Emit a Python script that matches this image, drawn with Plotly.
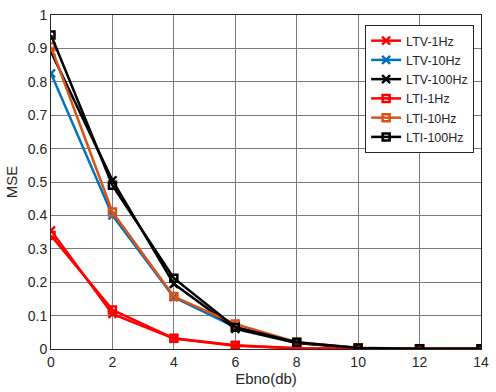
import plotly.graph_objects as go

ebno = [0, 2, 4, 6, 8, 10, 12, 14]
ltv_1 = [0.355, 0.105, 0.031, 0.010, 0.002, 0.001, 0.0005, 0.0003]
ltv_10 = [0.825, 0.400, 0.155, 0.066, 0.018, 0.003, 0.001, 0.0005]
ltv_100 = [0.890, 0.505, 0.195, 0.060, 0.018, 0.003, 0.001, 0.001]
lti_1 = [0.340, 0.117, 0.032, 0.011, 0.002, 0.001, 0.0005, 0.0003]
lti_10 = [0.905, 0.410, 0.157, 0.075, 0.020, 0.004, 0.001, 0.001]
lti_100 = [0.940, 0.490, 0.212, 0.065, 0.020, 0.003, 0.001, 0.001]

series = [
    ("LTV-1Hz", ltv_1, "#FF0000", "x-thin", 8),
    ("LTV-10Hz", ltv_10, "#0072BD", "x-thin", 8),
    ("LTV-100Hz", ltv_100, "#000000", "x-thin", 8),
    ("LTI-1Hz", lti_1, "#FF0000", "square-open", 7),
    ("LTI-10Hz", lti_10, "#D95319", "square-open", 7),
    ("LTI-100Hz", lti_100, "#000000", "square-open", 7),
]

fig = go.Figure()
for name, ys, col, sym, sz in series:
    fig.add_trace(go.Scatter(
        x=ebno, y=ys, name=name, mode="lines+markers",
        line=dict(color=col, width=2.5),
        marker=dict(symbol=sym, size=sz, color=col, line=dict(color=col, width=2.5)),
    ))

axis_common = dict(
    showgrid=True, gridcolor="#7a7a7a", gridwidth=1,
    showline=True, linecolor="#262626", linewidth=1, mirror=True,
    ticks="", zeroline=False,
    tickfont=dict(family="Liberation Sans, Arial", size=14, color="#262626"),
)

fig.update_layout(
    width=496, height=392,
    margin=dict(l=51, r=7, t=11, b=43),
    paper_bgcolor="white", plot_bgcolor="white",
    font=dict(family="Liberation Sans, Arial", size=14, color="#262626"),
    xaxis=dict(range=[0, 14], dtick=2, tick0=0,
               title=dict(text="Ebno(db)", standoff=4, font=dict(size=15)), **axis_common),
    yaxis=dict(range=[0, 1], dtick=0.1, tick0=0,
               title=dict(text="MSE", standoff=6, font=dict(size=15)), **axis_common),
    legend=dict(x=0.984, y=0.97, xanchor="right", yanchor="top",
                bgcolor="white", bordercolor="#262626", borderwidth=1,
                font=dict(size=12.5), tracegroupgap=0, itemwidth=30),
    showlegend=True,
)

fig.write_html("out.html")
